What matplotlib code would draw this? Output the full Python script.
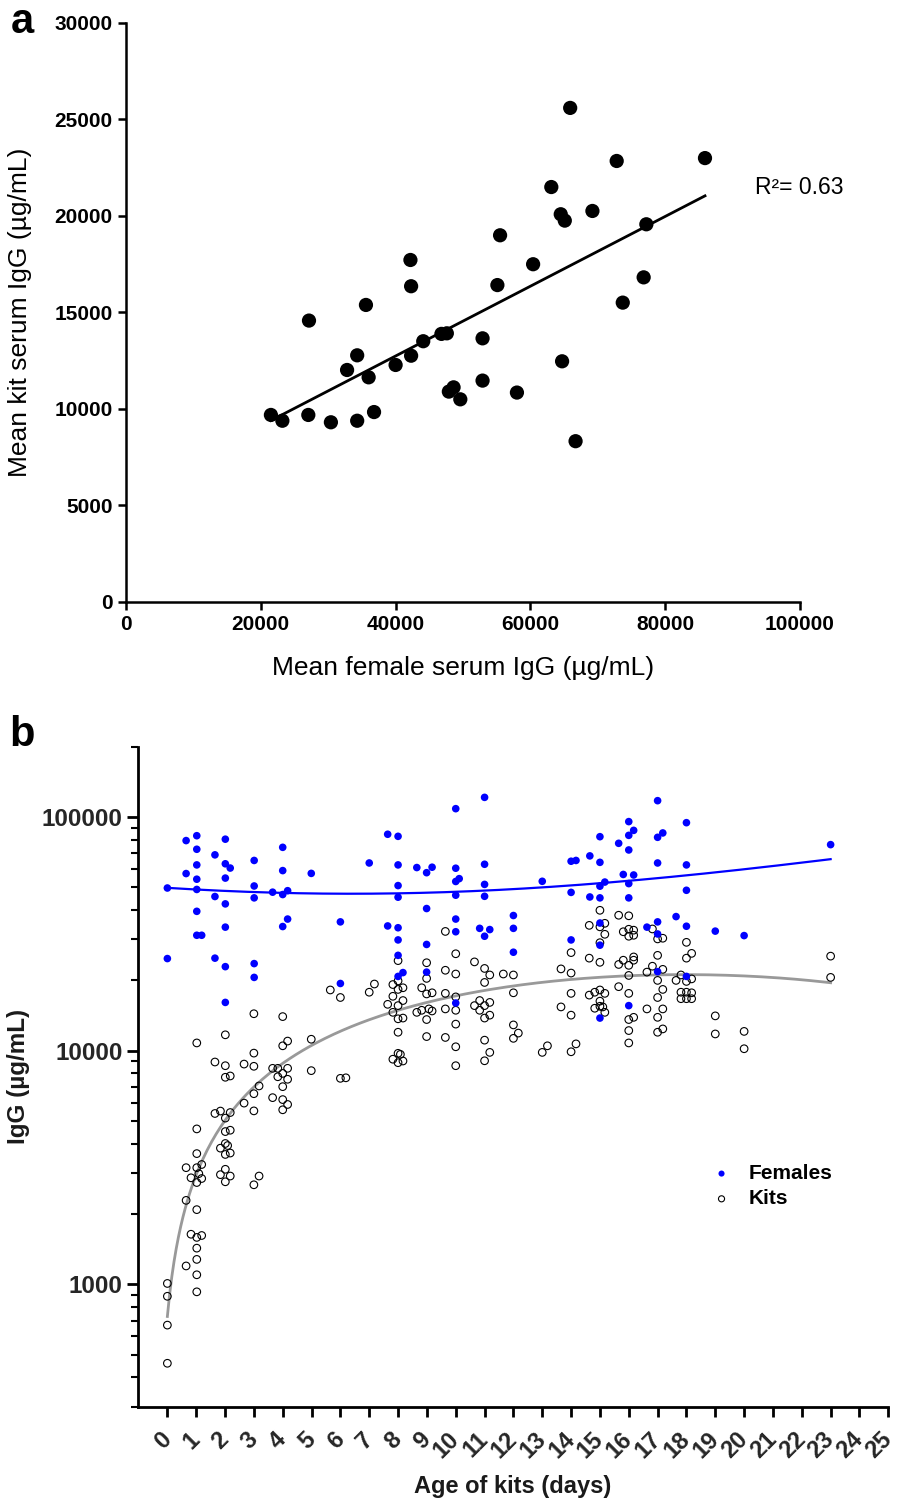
import numpy as np
import matplotlib.pyplot as plt
from matplotlib.ticker import LogLocator, NullFormatter

plt.rcParams['font.family'] = ['Liberation Sans', 'DejaVu Sans']

# ---- panel a: mean female vs mean kit serum IgG (ug/mL)
female_mean = [21500, 23200, 27050, 27150, 30400, 34300, 36800, 32800, 34300, 35600,
               36000, 40000, 42200, 42300, 42300, 44100, 46800, 47600, 47900, 48600,
               49600, 52900, 52900, 55500, 55100, 58000, 60400, 63100, 65900, 64500,
               65100, 69200, 72800, 64700, 66700, 73700, 76800, 77200, 85900]
kit_mean = [9690, 9390, 9690, 14580, 9310, 9390, 9840, 12020, 12780, 15390,
            11640, 12280, 17720, 16360, 12760, 13510, 13890, 13920, 10900, 11120,
            10500, 13660, 11470, 19000, 16420, 10850, 17500, 21500, 25600, 20090,
            19760, 20260, 22850, 12470, 8330, 15510, 16820, 19570, 23000]

# ---- panel b: IgG by age of kits (days), grouped by x position
fem_days = [0, 0.65, 1.02, 1.19, 1.65, 2.01, 2.18, 3.01, 3.65, 4.0, 4.17, 4.99, 6.0, 7.0,
            7.64, 8.0, 8.17, 8.65, 8.99, 9.18, 10.0, 10.12, 10.83, 11.0, 11.18, 12.0,
            13.0, 14.0, 14.17, 14.65, 15.0, 15.17, 15.65, 15.81, 16.0, 16.17, 16.63,
            17.0, 17.18, 17.64, 18.0, 19.0, 20.0, 23.0]
fem_igg = [[49700, 24800], [79300, 57300],
           [83200, 72800, 62400, 54200, 49000, 39500, 31200], [31200],
           [68900, 45700, 24900], [80400, 63100, 54800, 42500, 33800, 22900, 16100], [60500],
           [65200, 50700, 45100, 23600, 20600], [47700], [74200, 59000, 46600, 34000],
           [48400, 36600], [57400], [35600, 19400], [63600], [84400, 34200],
           [82700, 62400, 50900, 45400, 33600, 29800, 25600, 20800], [21600], [60800],
           [57800, 40600, 28500, 21700], [61000],
           [108600, 60400, 53000, 46300, 36600, 32300, 16000], [54500], [33400],
           [121400, 62800, 51500, 45800, 30900], [33000], [37900, 33400, 26400],
           [53100], [64700, 47600, 29800], [65200], [68200, 45500],
           [82400, 64000, 50600, 45100, 35200, 28300, 13800], [52700], [77200], [56800],
           [95600, 83500, 72300, 51900, 45100, 15600], [87700, 56500], [33800],
           [117500, 81900, 63600, 35600, 31600, 21800], [85500], [37500],
           [94600, 62400, 48600, 34100, 20800], [32500], [31100], [76200]]

kit_days = [0, 0.65, 0.82, 1.02, 1.09, 1.19, 1.65, 1.84, 2.01, 2.09, 2.18, 2.66, 3.0, 3.18,
            3.65, 3.83, 4.0, 4.17, 4.99, 5.65, 6.0, 6.19, 7.0, 7.18, 7.64, 7.82, 8.0, 8.08,
            8.17, 8.65, 8.82, 8.99, 9.07, 9.18, 9.64, 10.0, 10.65, 10.83, 11.0, 11.18,
            11.65, 12.0, 12.17, 13.0, 13.18, 13.65, 14.0, 14.17, 14.63, 14.82, 15.0,
            15.1, 15.17, 15.65, 15.81, 16.0, 16.17, 16.63, 16.82, 17.0, 17.18, 17.64,
            17.81, 18.0, 18.18, 19.0, 20.0, 23.0]
kit_igg = [[1010, 890, 670, 460], [3160, 2290, 1200], [2860, 1640],
           [10800, 4630, 3630, 3160, 2730, 2090, 1590, 1430, 1280, 1100, 930], [2980],
           [3260, 2840, 1620], [8950, 5390], [5520, 3830, 2950],
           [11700, 8630, 7700, 5150, 4510, 4010, 3600, 3110, 2750], [3930],
           [7800, 5440, 4570, 3650, 2910], [8770, 5970],
           [14400, 9770, 8580, 6550, 5530, 2670], [7070, 2910], [8410, 6300], [8410, 7740],
           [14000, 10500, 8000, 7020, 6180, 5590], [11000, 8410, 7550, 5890], [11200, 8220],
           [18200], [16900, 7620], [7660], [17800], [19300], [15800],
           [19200, 17100, 14600, 9200],
           [24300, 19900, 18300, 15600, 13700, 12000, 9750, 8890], [9650],
           [18600, 16400, 13800, 9040], [14600], [18600, 14900],
           [23800, 20400, 17500, 13600, 11500], [15100], [17700, 14800],
           [32400, 22100, 17600, 15100, 11400],
           [26000, 21300, 17000, 14900, 13000, 10400, 8630], [24000, 15600], [16400, 14900],
           [22500, 19600, 15600, 13800, 11100, 9060], [21100, 16100, 14200, 9840],
           [21300], [21100, 17700, 12900, 11300], [11900], [9840], [10500], [22400, 15400],
           [26300, 21500, 17600, 14200, 9900], [10700], [34400, 24900, 17300],
           [17800, 15200], [39900, 33900, 29000, 23900, 18200, 16300, 15500], [15400],
           [35100, 31500, 17600, 14600], [38000, 23400, 18800], [32300, 24400],
           [37800, 33100, 30900, 23200, 21000, 17600, 13600, 12200, 10800],
           [32800, 31200, 25200, 24400, 13900], [21700, 15100], [33200, 23000],
           [30100, 25600, 20000, 16900, 13900, 12000], [30300, 22300, 18300, 15100, 12400],
           [20000], [21100, 17800, 16700], [29100, 24900, 19800, 17800, 16700],
           [26100, 20300, 17700, 16700], [14100, 11800], [12100, 10200], [25400, 20600]]


def flatten(days, groups):
    x = np.concatenate([[d] * len(g) for d, g in zip(days, groups)])
    y = np.concatenate([np.array(g, dtype=float) for g in groups])
    return x, y


fx, fy = flatten(fem_days, fem_igg)
kx, ky = flatten(kit_days, kit_igg)

fig = plt.figure(figsize=(8.98, 15.03), dpi=100)

# ---------------- panel a
ax1 = fig.add_axes([0.1403, 0.5995, 0.7506, 0.3852])
ax1.scatter(female_mean, kit_mean, s=105, color='black', edgecolors='none', zorder=3)
p = np.polyfit(female_mean, kit_mean, 1)
xl = np.array([min(female_mean), max(female_mean)])
ax1.plot(xl, np.polyval(p, xl), color='black', lw=2)
ax1.text(755 / 898, 1 - 187 / 1503, 'R\u00b2= 0.63', transform=fig.transFigure,
         fontsize=16.5, va='center', ha='left')
ax1.set_xlim(0, 100000)
ax1.set_ylim(0, 30000)
ax1.set_xticks(np.arange(0, 100001, 20000))
ax1.set_yticks(np.arange(0, 30001, 5000))
for s in ['top', 'right']:
    ax1.spines[s].set_visible(False)
for s in ['left', 'bottom']:
    ax1.spines[s].set_linewidth(1.8)
ax1.tick_params(direction='out', length=6, width=1.8, labelsize=15)
for lab in ax1.get_xticklabels() + ax1.get_yticklabels():
    lab.set_fontweight('bold')
ax1.set_xlabel('Mean female serum IgG (\u00b5g/mL)', fontsize=19, labelpad=16)
ax1.set_ylabel('Mean kit serum IgG (\u00b5g/mL)', fontsize=19, labelpad=16)

# ---------------- panel b
ax2 = fig.add_axes([0.1533, 0.0641, 0.8359, 0.4391])
ax2.set_yscale('log')
kits = ax2.scatter(kx, ky, s=30, facecolors='none', edgecolors='black', linewidths=0.8,
                   zorder=3, label='Kits')
fem = ax2.scatter(fx, fy, s=30, color='#0000ff', edgecolors='none', zorder=4,
                  label='Females')

pf = np.polyfit(fx, fy, 2)
xs = np.linspace(fx.min(), fx.max(), 300)
ax2.plot(xs, np.polyval(pf, xs), color='#0000ff', lw=1.6, zorder=2)
pk = np.polyfit(kx, ky, 2)
xs = np.linspace(kx.min(), kx.max(), 300)
ax2.plot(xs, np.polyval(pk, xs), color='#999999', lw=2, zorder=2)

ax2.set_xlim(-1.03, 25)
ax2.set_ylim(300, 200000)
ax2.set_yticks([1000, 10000, 100000])
ax2.set_yticklabels(['1000', '10000', '100000'], fontweight='bold', fontsize=17.5,
                    color='#262626')
ax2.yaxis.set_minor_locator(LogLocator(base=10, subs=np.arange(2, 10), numticks=20))
ax2.yaxis.set_minor_formatter(NullFormatter())
ax2.set_xticks(range(26))
ax2.set_xticklabels([str(i) for i in range(26)], rotation=45, ha='right', va='center',
                    rotation_mode='anchor', fontweight='bold', fontsize=17, color='#262626')
for s in ['top', 'right']:
    ax2.spines[s].set_visible(False)
for s in ['left', 'bottom']:
    ax2.spines[s].set_linewidth(2)
ax2.tick_params(axis='y', which='major', direction='out', length=8, width=2, pad=3)
ax2.tick_params(axis='y', which='minor', direction='out', length=5, width=1.5)
ax2.tick_params(axis='x', direction='out', length=7, width=2, pad=14)
ax2.set_xlabel('Age of kits (days)', fontsize=17, fontweight='bold', color='#1a1a1a',
               labelpad=9)
ax2.set_ylabel('IgG (\u00b5g/mL)', fontsize=17.5, fontweight='bold', color='#1a1a1a',
               labelpad=8)
ax2.legend(handles=[fem, kits], loc='upper left', bbox_to_anchor=(0.771, 0.238),
           bbox_transform=fig.transFigure, frameon=False, markerscale=0.8,
           prop={'weight': 'bold', 'size': 15}, handlelength=1.0, handletextpad=0.8,
           labelspacing=0.3)

fig.text(0.012, 0.999, 'a', fontsize=30, fontweight='bold', va='top')
fig.text(0.010, 0.524, 'b', fontsize=30, fontweight='bold', va='top')

fig.savefig('out.png', dpi=100)
